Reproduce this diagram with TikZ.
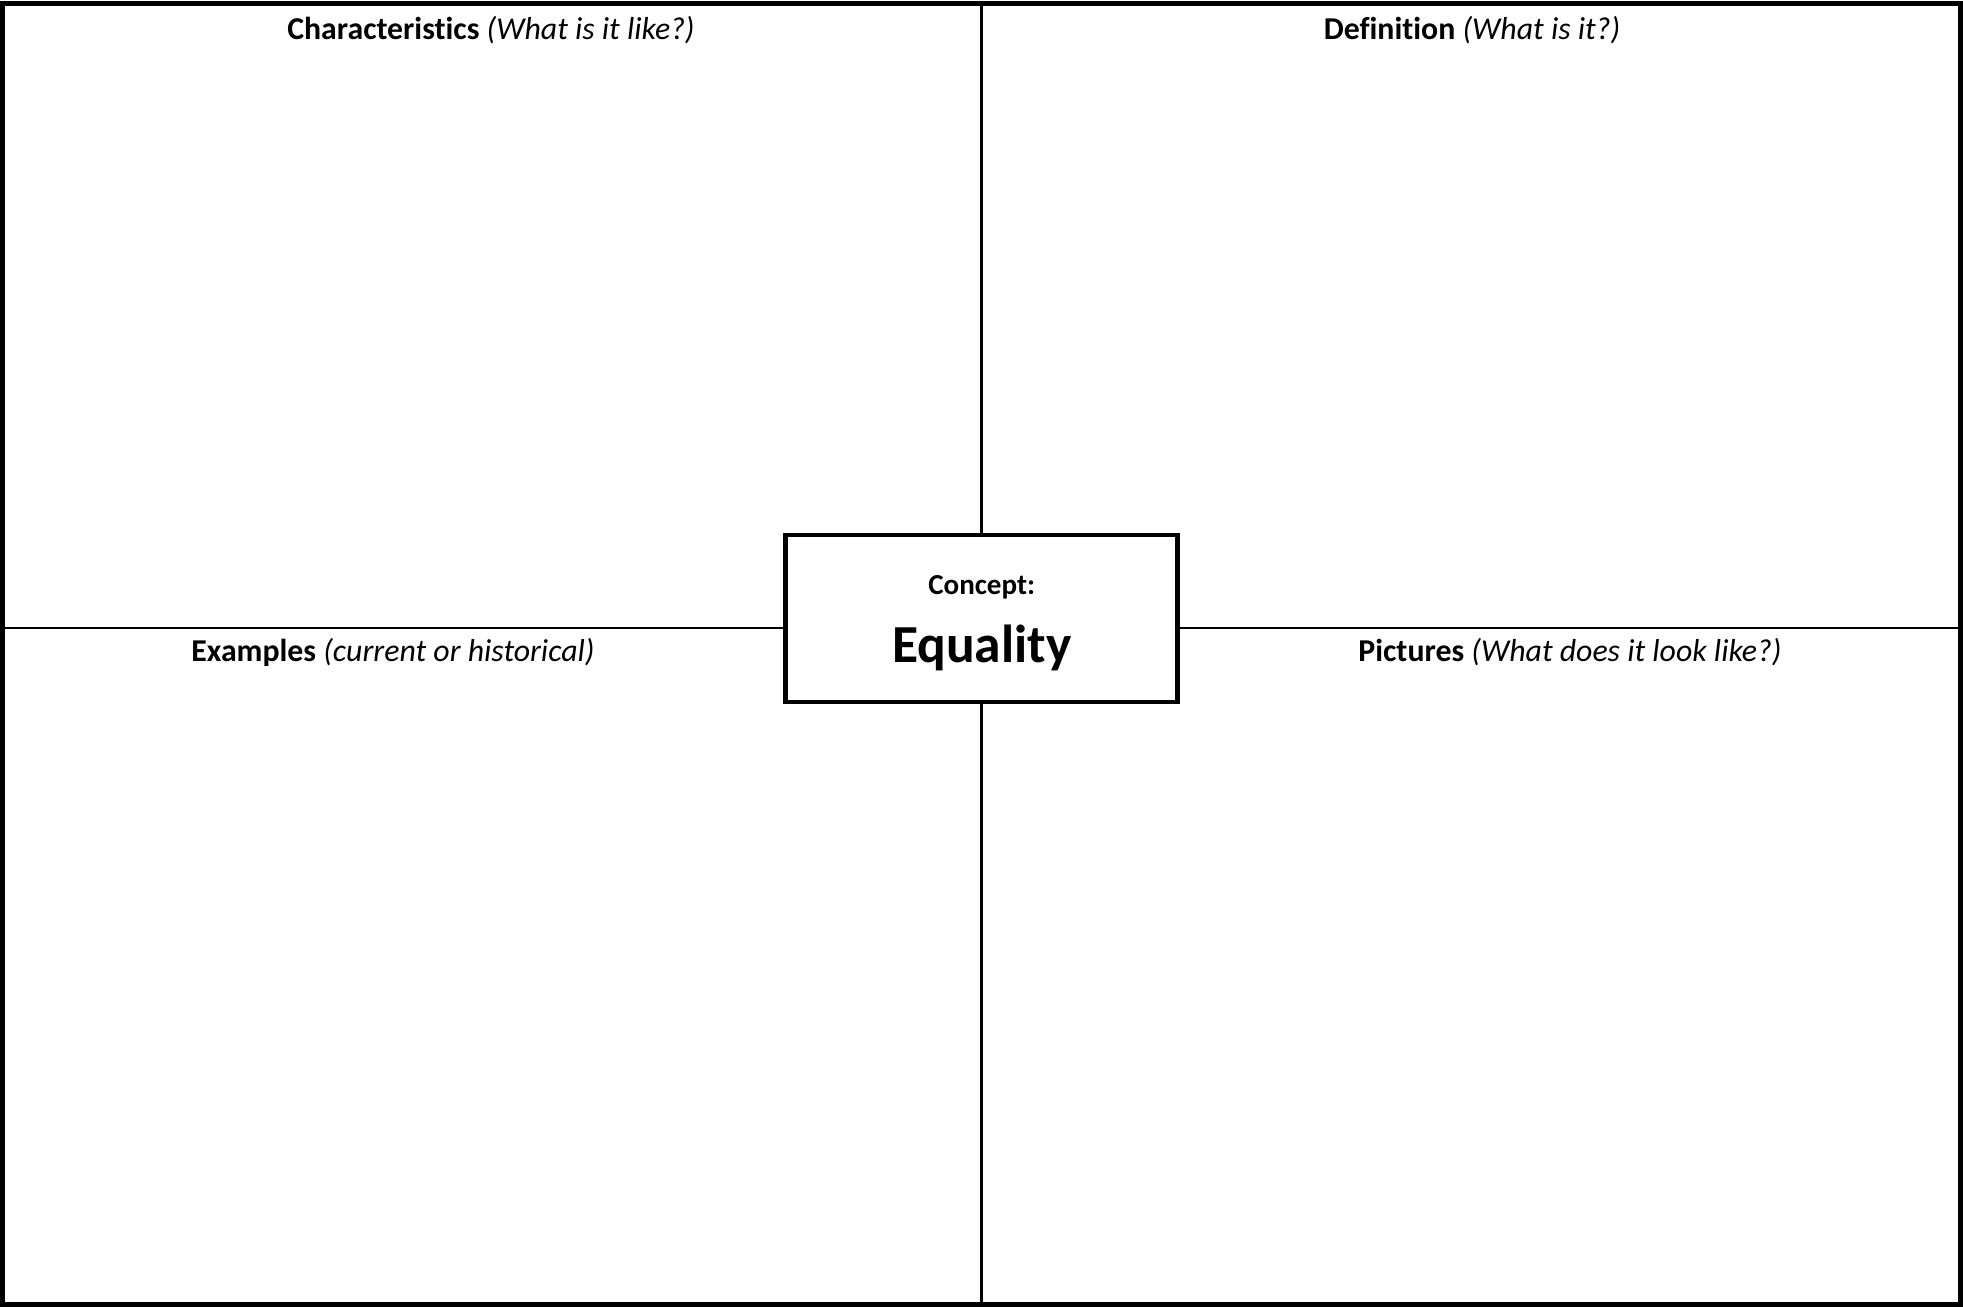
\documentclass[tikz,border=0pt]{standalone}
\usepackage{fontspec}
\setmainfont{Carlito}[Ligatures=NoCommon]

\tikzset{
    frame/.style={line width=5pt},
    divider/.style={line width=2.5pt},
    conceptbox/.style={draw, line width=4.5pt, fill=white, minimum width=392pt, minimum height=167pt, inner sep=0pt},
    header/.style={anchor=base, inner sep=0pt, font=\fontsize{31.8}{36}\selectfont}
}

\begin{document}
\begin{tikzpicture}[x=1pt, y=-1pt]
    \useasboundingbox (0,0) rectangle (1963,1307);
    \draw[frame] (2.5,3) rectangle (1960.5,1304.5);
    \coordinate (north) at (981.7,3);
    \coordinate (south) at (981.7,1304);
    \coordinate (west) at (2.5,628);
    \coordinate (east) at (1960.5,628);
    \node[conceptbox] (concept) at (981.7,618.3) {};
    \draw[divider] (north) -- (concept.north);
    \draw[divider] (concept.south) -- (south);
    \draw[divider] (west) -- (west -| concept.west);
    \draw[divider] (east) -- (east -| concept.east);
    \node[anchor=base, font=\fontsize{29}{34}\selectfont\bfseries] (label) at (981.7,594) {Concept:};
    \node[anchor=base, font=\fontsize{53.5}{62}\selectfont\bfseries] (term) at (981.7,662) {Equality};
    % quadrant headers
    \node[header] (chars) at (491,39) {\textbf{Characteristics} \textit{(What is it like?)}};
    \node[header] (defn) at (1472,39) {\textbf{Definition} \textit{(What is it?)}};
    \node[header] (exmp) at (393,661) {\textbf{Examples} \textit{(current or historical)}};
    \node[header] (pics) at (1570,661) {\textbf{Pictures} \textit{(What does it look like?)}};
\end{tikzpicture}
\end{document}
